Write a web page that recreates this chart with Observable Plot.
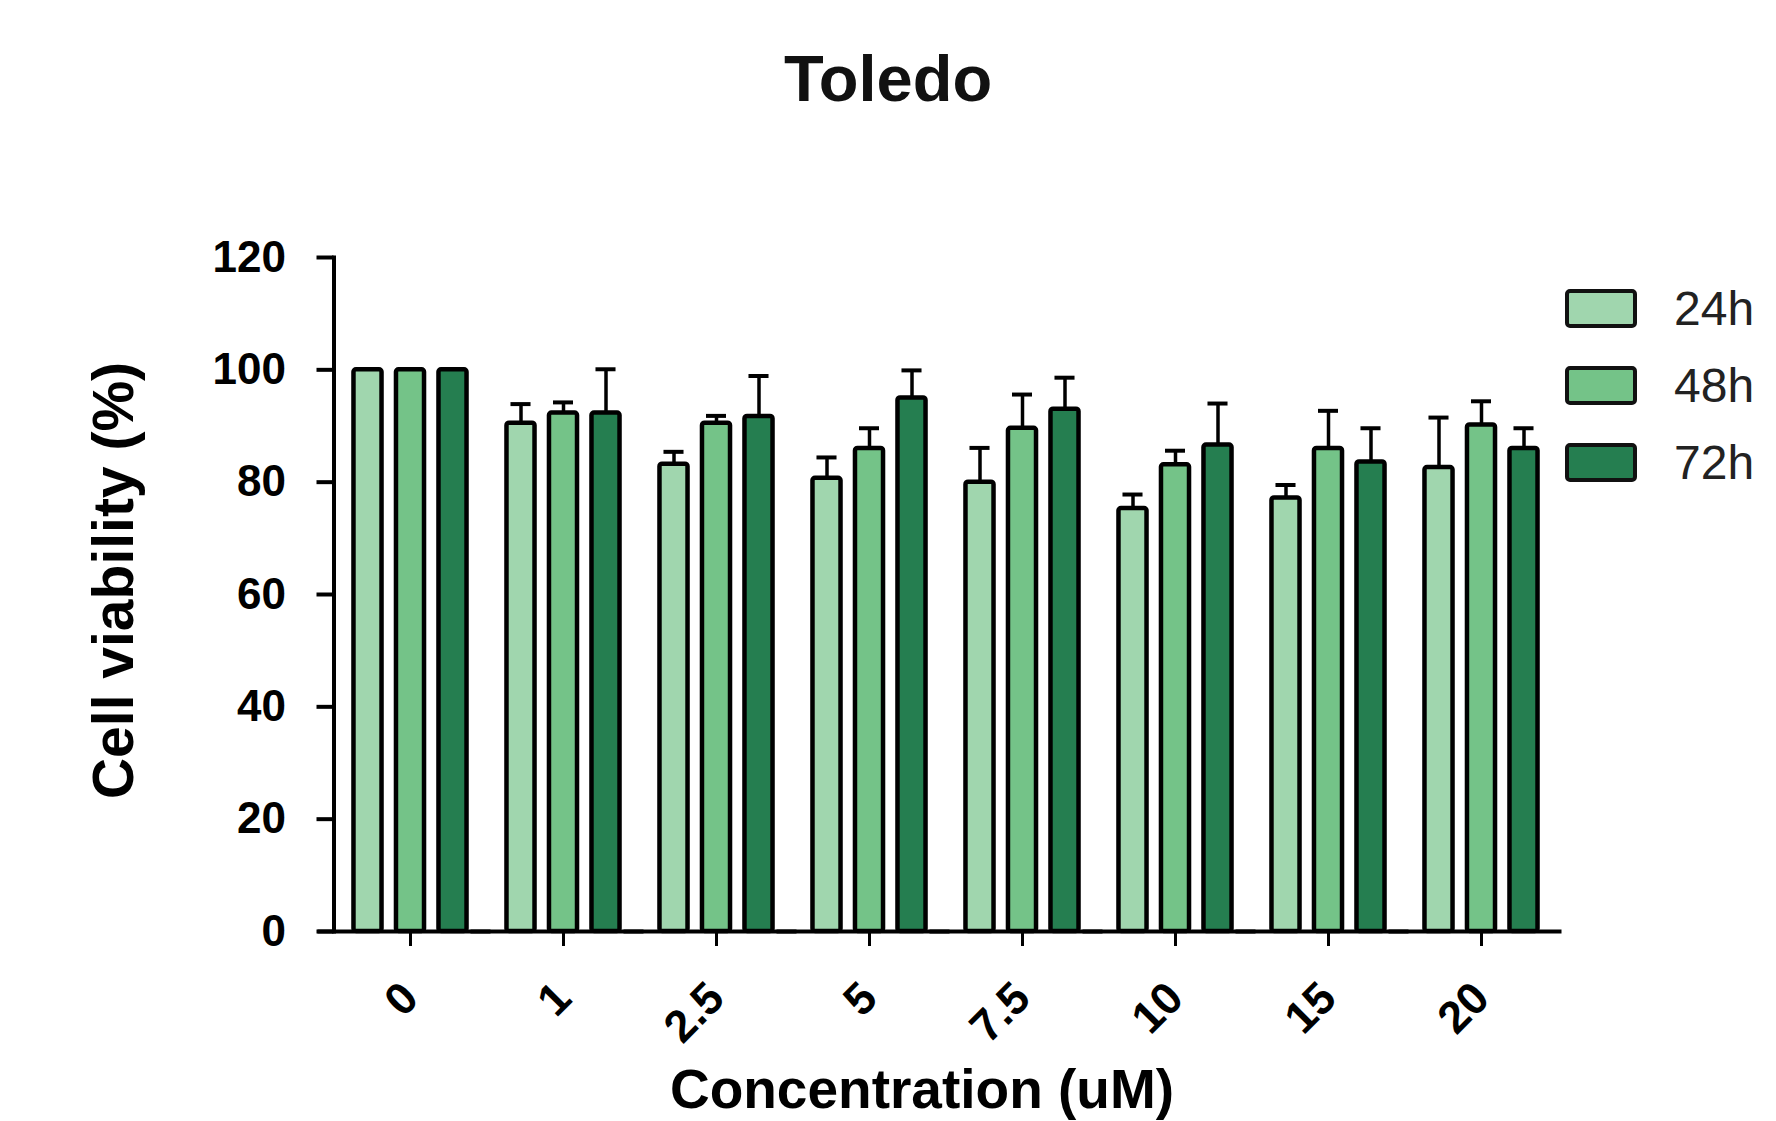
<!DOCTYPE html>
<html><head><meta charset="utf-8">
<script src="https://cdn.jsdelivr.net/npm/d3@7"></script>
<script src="https://cdn.jsdelivr.net/npm/@observablehq/plot@0.6"></script>
<style>
body{margin:0;background:#fff;font-family:"Liberation Sans",Arial,sans-serif;}
#wrap{position:relative;width:1776px;height:1121px;overflow:hidden;background:#fff;}
#title{position:absolute;left:0;top:46px;width:1776px;text-align:center;font-weight:bold;font-size:65px;line-height:65px;color:#111;}
#chart{position:absolute;left:0;top:130px;}
#legend{position:absolute;left:1565px;top:289px;}
.row{display:flex;align-items:center;height:39px;margin-bottom:38px;}
.sw{width:72px;height:39px;box-sizing:border-box;border:4px solid #111;border-radius:5px;}
.lab{margin-left:37px;font-size:48px;color:#222;}
</style></head>
<body><div id="wrap"><div id="title">Toledo</div><div id="chart"></div><div id="legend"></div></div>
<script>
const concentrations = ["0","1","2.5","5","7.5","10","15","20"];
const times = ["24h","48h","72h"];
const colors = ["#a0d6ae","#74c388","#257e50"];
const mean24 = [100, 90.5, 83.2, 80.7, 80.0, 75.3, 77.2, 82.6];
const sd24   = [0,   3.4,  2.2,  3.7,  6.1,  2.5,  2.3,  8.9];
const mean48 = [100, 92.3, 90.5, 86.0, 89.6, 83.1, 86.0, 90.2];
const sd48   = [0,   1.9,  1.3,  3.6,  6.0,  2.5,  6.7,  4.2];
const mean72 = [100, 92.3, 91.7, 95.0, 93.0, 86.6, 83.6, 86.0];
const sd72   = [0,   7.8,  7.2,  4.9,  5.6,  7.4,  6.0,  3.6];
const yTicks = [0, 20, 40, 60, 80, 100, 120];
const yLabel = "Cell viability (%)";
const xLabel = "Concentration (uM)";

const series = [[mean24, sd24], [mean48, sd48], [mean72, sd72]];
const rows = [];
concentrations.forEach((c, i) => {
  times.forEach((t, j) => {
    rows.push({conc: c, time: t, mean: series[j][0][i], sd: series[j][1][i]});
  });
});
const errRows = rows.filter(d => d.sd > 0);
const font = "Liberation Sans, Arial, sans-serif";

const chart = Plot.plot({
  width: 1776, height: 991,
  marginLeft: 333.5, marginRight: 218.5, marginTop: 127, marginBottom: 190,
  style: {fontFamily: font, color: "#000", background: "transparent"},
  fx: {domain: concentrations, padding: 0, round: false, axis: null},
  x: {domain: times, paddingInner: 0.34, paddingOuter: 0.47, round: false, axis: null},
  y: {domain: [0, 120], axis: null},
  color: {domain: times, range: colors},
  marks: [
    Plot.barY(rows, {fx: "conc", x: "time", y: "mean", fill: "time", stroke: "#000", strokeWidth: 4.5, rx: 2.5}),
    Plot.ruleX(errRows, {fx: "conc", x: "time", y1: "mean", y2: d => d.mean + d.sd, stroke: "#000", strokeWidth: 3.5}),
    Plot.tickY(errRows, {fx: "conc", x: "time", y: d => d.mean + d.sd, stroke: "#000", strokeWidth: 4, insetLeft: 4, insetRight: 4}),
    Plot.ruleY([0], {stroke: "#000", strokeWidth: 4, insetLeft: -16, insetRight: -4}),
    Plot.frame({anchor: "left", facet: "super", stroke: "#000", strokeWidth: 4}),
    Plot.axisY({ticks: yTicks, tickSize: 17, tickPadding: 31, strokeWidth: 4, fontSize: 44, fontWeight: "bold", label: null}),
    Plot.axisFx({anchor: "bottom", tickSize: 15, tickRotate: -45, tickPadding: 44, strokeWidth: 3, fontSize: 45, fontWeight: "bold", label: null}),
    Plot.text([yLabel], {facet: "super", frameAnchor: "left", rotate: -90, dx: -219, dy: -14, fontSize: 57, fontWeight: "bold", textAnchor: "middle", fill: "#000"}),
    Plot.text([xLabel], {facet: "super", frameAnchor: "bottom", dx: -24, dy: 176, fontSize: 55, fontWeight: "bold", textAnchor: "middle", fill: "#000"})
  ]
});
document.getElementById("chart").appendChild(chart);

const legend = document.getElementById("legend");
times.forEach((t, j) => {
  const row = document.createElement("div");
  row.className = "row";
  const sw = document.createElement("div");
  sw.className = "sw";
  sw.style.background = colors[j];
  const lab = document.createElement("span");
  lab.className = "lab";
  lab.textContent = t;
  row.appendChild(sw); row.appendChild(lab);
  legend.appendChild(row);
});
</script>
</body></html>
